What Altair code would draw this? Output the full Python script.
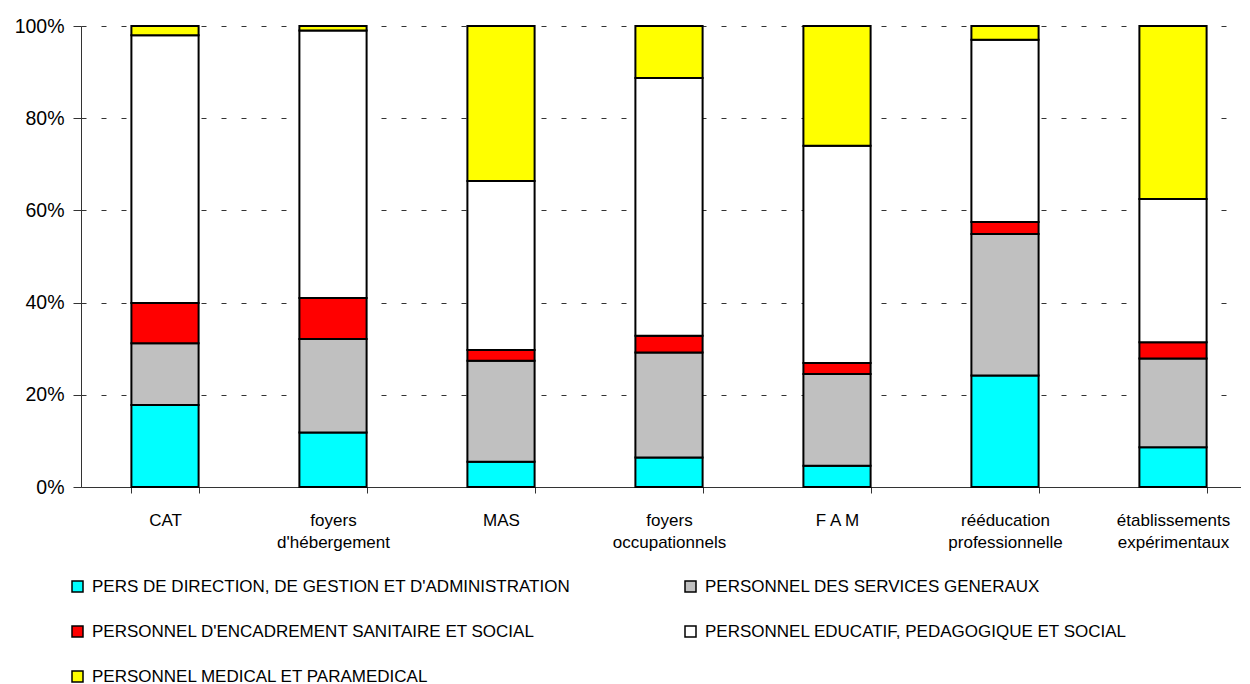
import altair as alt
import pandas as pd

categories = ["CAT", "foyers d'hébergement", "MAS", "foyers occupationnels",
              "F A M", "rééducation professionnelle", "établissements expérimentaux"]

series = ["PERS DE DIRECTION, DE GESTION ET D'ADMINISTRATION",
          "PERSONNEL DES SERVICES GENERAUX",
          "PERSONNEL D'ENCADREMENT SANITAIRE ET SOCIAL",
          "PERSONNEL EDUCATIF, PEDAGOGIQUE ET SOCIAL",
          "PERSONNEL MEDICAL ET PARAMEDICAL"]
colors = ["#00FFFF", "#C0C0C0", "#FF0000", "#FFFFFF", "#FFFF00"]

direction = [17.8, 11.8, 5.5, 6.4, 4.6, 24.2, 8.6]
generaux = [13.4, 20.3, 21.9, 22.8, 19.9, 30.7, 19.3]
encadrement = [8.7, 8.9, 2.3, 3.6, 2.4, 2.6, 3.5]
educatif = [58.1, 58.0, 36.7, 55.9, 47.1, 39.5, 31.1]
medical = [2.0, 1.0, 33.6, 11.3, 26.0, 3.0, 37.5]

values = [direction, generaux, encadrement, educatif, medical]
rows = []
for si, (s, vals) in enumerate(zip(series, values)):
    for c, v in zip(categories, vals):
        rows.append({"cat": c, "series": s, "order": si, "value": v})
df = pd.DataFrame(rows)

FONT = "Liberation Sans"

chart = alt.Chart(df).mark_bar(stroke="black", strokeWidth=2, opacity=1).encode(
    x=alt.X("cat:N", sort=categories, title=None,
            scale=alt.Scale(paddingInner=0.6, paddingOuter=0.3),
            axis=alt.Axis(labelAngle=0, labelFontSize=17, labelFont=FONT, labelColor="black",
                          labelLineHeight=22, labelPadding=19, tickSize=6, tickBand="extent",
                          tickColor="#333", domainColor="#333", labelBaseline="top",
                          labelExpr="datum.label == 'F A M' ? datum.label : split(datum.label, ' ')")),
    y=alt.Y("value:Q", stack="normalize", title=None,
            scale=alt.Scale(domain=[0, 1]),
            axis=alt.Axis(format=".0%", values=[0, 0.2, 0.4, 0.6, 0.8, 1.0], labelFontSize=19.5,
                          labelFont=FONT, labelColor="black", tickSize=8, labelPadding=9,
                          tickColor="#333", domainColor="#333", grid=True, gridColor="#333",
                          gridDash=[5, 15], gridWidth=1)),
    color=alt.Color("series:N", sort=series,
                    scale=alt.Scale(domain=series, range=colors),
                    legend=alt.Legend(orient="none", legendX=-12, legendY=552, direction="horizontal",
                                      columns=2, title=None, symbolType="square", symbolSize=121,
                                      symbolStrokeColor="black", symbolStrokeWidth=1.5,
                                      symbolOpacity=1,
                                      labelFontSize=17, labelFont=FONT, labelColor="black",
                                      labelLimit=800, labelOffset=6, rowPadding=27,
                                      columnPadding=111)),
    order=alt.Order("order:Q", sort="ascending"),
).properties(
    width=1176, height=461,
    autosize=alt.AutoSizeParams(type="none"),
    padding={"left": 73, "top": 18, "right": -16, "bottom": 205},
).configure_view(stroke=None)

chart.save("out.html", embed_options={"renderer": "svg", "actions": False})
